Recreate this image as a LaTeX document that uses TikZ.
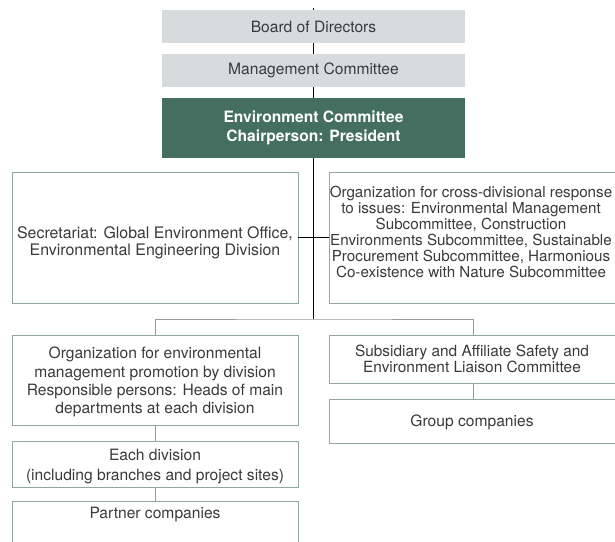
\documentclass[tikz,border=0pt]{standalone}
\usepackage{fontspec}
\setmainfont{TeX Gyre Heros}
\definecolor{boxgray}{HTML}{D8DBDE}
\definecolor{envgreen}{HTML}{446F60}
\definecolor{bordergreen}{HTML}{8FA89F}
\definecolor{txt}{HTML}{3A3A3A}
\definecolor{linegray}{HTML}{9A9A9A}
\begin{document}
\begin{tikzpicture}[x=1pt,y=-1pt,
  every node/.style={inner sep=0pt, align=center, text=txt},
  graybox/.style={fill=boxgray, minimum width=303pt, minimum height=33pt, font=\fontsize{15.6}{17}\selectfont},
  greenbox/.style={fill=envgreen, text=white, minimum width=303pt, minimum height=60pt, font=\fontsize{15.6}{19.5}\selectfont\bfseries},
  outbox/.style={draw=bordergreen, line width=0.9pt, fill=white, minimum width=286pt},
  rbox/.style={outbox, minimum width=288pt},
  boxtext/.style={font=\fontsize{15.6}{#1}\selectfont},
  blackline/.style={draw=black, line width=1pt},
  grayline/.style={draw=linegray, line width=1pt}]
\useasboundingbox (0,0) rectangle (615,541);
\clip (0,0) rectangle (615,541);
\fill[white] (0,0) rectangle (615,541);

\node[graybox] (board) at (313.5,26.5) {Board of Directors};
\node[graybox] (mgmt) at (313.5,70.5) {Management Committee};
\node[greenbox] (env) at (313.5,128) {Environment Committee\\Chairperson: President};

% upper row boxes
\node[outbox, minimum height=131pt] (sec) at (155,237.5) {};
\node[boxtext=16.7, font=\fontsize{15.9}{16.7}\selectfont] (sectext) at (155,243)
  {Secretariat: Global Environment Office,\\Environmental Engineering Division};
\node[rbox, minimum height=131pt] (cross) at (473,237.5) {};
\node[font=\fontsize{15.2}{16.1}\selectfont] (crosstext) at (471,232)
  {Organization for cross-divisional response\\to issues: Environmental Management\\Subcommittee, Construction\\Environments Subcommittee, Sustainable\\Procurement Subcommittee, Harmonious\\Co-existence with Nature Subcommittee};

% left column
\node[outbox, minimum height=90pt] (org) at (155,380) {};
\node[boxtext=18.2] (orgtext) at (155,382)
  {Organization for environmental\\management promotion by division\\Responsible persons: Heads of main\\departments at each division};
\node[outbox, minimum height=46pt] (each) at (155,464) {};
\node[boxtext=19.2] (eachtext) at (155,466.5)
  {Each division\\(including branches and project sites)};
\node[outbox, minimum height=50pt, anchor=north] (partner) at (155,501) {};
\node[boxtext=17] (partnertext) at (155,515) {Partner companies};

% right column
\node[rbox, minimum height=48pt] (sub) at (473,359) {};
\node[font=\fontsize{15.4}{16.7}\selectfont] (subtext) at (472,359)
  {Subsidiary and Affiliate Safety and\\Environment Liaison Committee};
\node[rbox, minimum height=44pt] (grp) at (473,421) {};
\node[boxtext=17] (grptext) at (472,422.5) {Group companies};

\coordinate (top) at (313.5,8);
\coordinate (junc) at (313.5,319);

\draw[blackline] (top) -- (board.north);
\draw[blackline] (board.south) -- (mgmt.north);
\draw[blackline] (mgmt.south) -- (env.north);
\draw[blackline] (env.south) -- (junc);
\draw[blackline] (sec.east) -- (cross.west);
\draw[grayline] (org.north) |- (junc) -| (sub.north);
\draw[grayline] (org.south) -- (each.north);
\draw[grayline] (each.south) -- (partner.north);
\draw[grayline] (sub.south) -- (grp.north);
\end{tikzpicture}
\end{document}
